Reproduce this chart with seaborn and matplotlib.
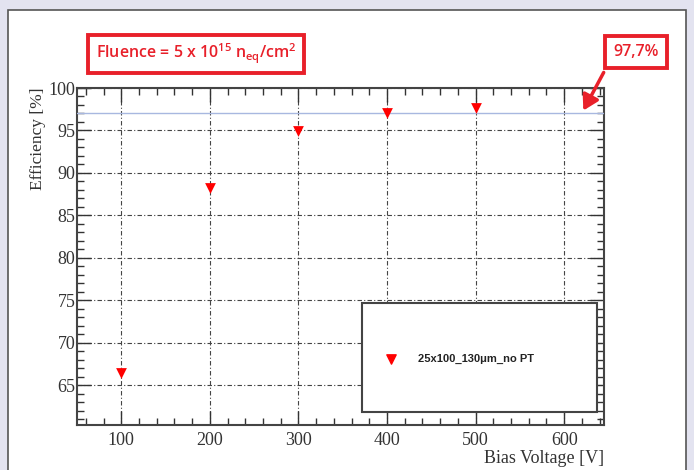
import matplotlib
matplotlib.use("Agg")
import matplotlib.pyplot as plt
import seaborn as sns
import pandas as pd
from matplotlib.patches import Rectangle, FancyArrowPatch
from matplotlib.ticker import MultipleLocator

bias_voltage = [100, 200, 300, 400, 500]
efficiency = [66.4, 88.2, 94.9, 97.1, 97.7]
series_label = "25x100_130\u03bcm_no PT"
reference_level = 97.0

df = pd.DataFrame({"Bias Voltage [V]": bias_voltage, "Efficiency [%]": efficiency,
                   "sensor": [series_label] * len(bias_voltage)})

sns.set_style("white")
plt.rcParams['font.family'] = ['Liberation Serif', 'DejaVu Serif']
plt.rcParams['mathtext.default'] = 'regular'

fig = plt.figure(figsize=(6.94, 4.70), dpi=100)
fig.patch.set_facecolor("#e3e3f0")
# white panel
panel = Rectangle((8 / 694, -0.01), 678 / 694, 1 - 10 / 470 + 0.01, transform=fig.transFigure,
                  facecolor="white", edgecolor="#555555", linewidth=1.2, zorder=-10)
fig.patches.append(panel)

ax = fig.add_axes([77 / 694, 1 - 425 / 470, 527 / 694, 337 / 470])
ax.set_zorder(1)
ax.set_facecolor("white")

sns.scatterplot(data=df, x="Bias Voltage [V]", y="Efficiency [%]", ax=ax,
                marker="v", color="red", s=60, edgecolor="red", linewidth=0, legend=False, zorder=5)

ax.set_xlim(50, 645)
ax.set_ylim(60.3, 100)
ax.xaxis.set_major_locator(MultipleLocator(100))
ax.xaxis.set_minor_locator(MultipleLocator(20))
ax.yaxis.set_major_locator(MultipleLocator(5))
ax.yaxis.set_minor_locator(MultipleLocator(1))
ax.set_yticks([65, 70, 75, 80, 85, 90, 95, 100])
ax.tick_params(which="both", direction="in", top=True, right=True, bottom=True, left=True,
               labelsize=13, colors="#333333")
ax.tick_params(axis="x", pad=5)
ax.tick_params(axis="y", pad=1)
ax.tick_params(which="major", length=10, width=1.0)
ax.tick_params(which="minor", length=5, width=1.0)
ax.grid(True, which="major", color="#444444", linestyle=(0, (4, 2, 1, 2)), linewidth=0.8)
for s in ax.spines.values():
    s.set_color("#444444")
    s.set_linewidth(1.5)

ax.axhline(reference_level, color="#a8b8e0", linewidth=1.0, zorder=4)

ax.set_xlabel("Bias Voltage [V]", fontsize=13, color="#333333", loc="right", labelpad=1)
ax.set_ylabel("Efficiency [%]", fontsize=12.5, color="#333333", loc="top", labelpad=2)

# legend box
lx0, ly0 = (362 - 77) / 527, (425 - 412) / 337
lw, lh = (597 - 362) / 527, (412 - 303) / 337
ax.add_patch(Rectangle((lx0, ly0), lw, lh, transform=ax.transAxes, facecolor="white",
                       edgecolor="#444444", linewidth=1.5, zorder=6))
ax.scatter([(391 - 77) / 527], [(425 - 359) / 337], transform=ax.transAxes,
           marker="v", color="red", s=45, zorder=7, clip_on=False)
ax.text((418 - 77) / 527, (425 - 359) / 337, series_label, transform=ax.transAxes,
        fontsize=8, fontweight="bold", color="#222222", va="center", ha="left",
        family=["Liberation Sans", "DejaVu Sans"], zorder=7)

# annotation boxes
fig.text(196 / 694, 1 - 54 / 470, r"Fluence = 5 x 10$^{15}$ n$_{eq}$/cm$^{2}$",
         ha="center", va="center", fontsize=11.5, color="#e8202a", fontweight="semibold",
         family=["Open Sans", "DejaVu Sans"],
         bbox=dict(boxstyle="square,pad=0.45", facecolor="white", edgecolor="#e8202a", linewidth=2.8))
fig.text(636 / 694, 1 - 52 / 470, "97,7%", ha="center", va="center", fontsize=11.5,
         color="#e8202a", fontweight="semibold", family=["Open Sans", "DejaVu Sans"],
         bbox=dict(boxstyle="square,pad=0.5", facecolor="white", edgecolor="#e8202a", linewidth=2.8))
arrow = FancyArrowPatch((605 / 694, 1 - 70 / 470), (582 / 694, 1 - 113 / 470),
                        transform=fig.transFigure, arrowstyle="-|>,head_length=6,head_width=3.5",
                        color="#e8202a", linewidth=2.5, mutation_scale=1.5, zorder=10)
fig.add_artist(arrow)

fig.savefig("out.png", dpi=100, facecolor=fig.get_facecolor())
